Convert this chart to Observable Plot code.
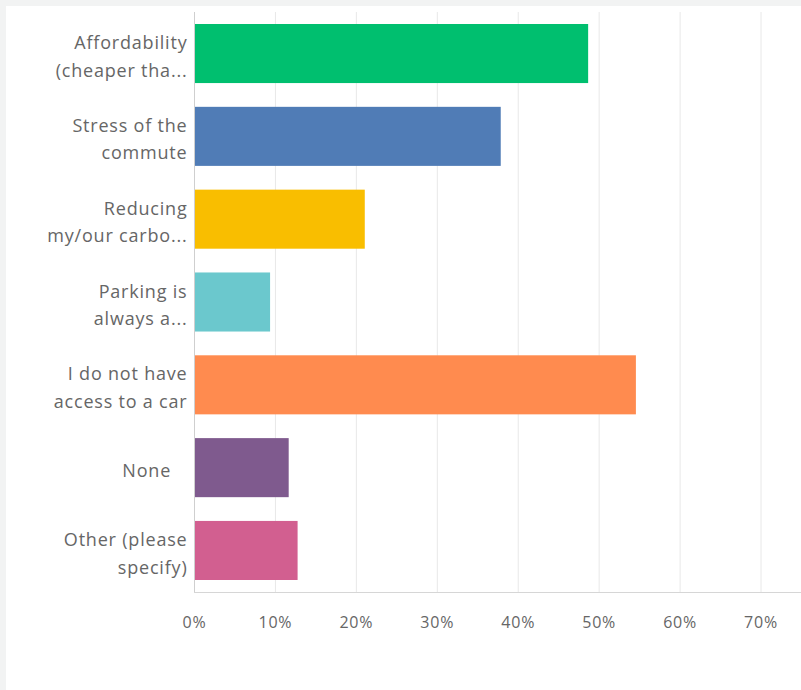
<!DOCTYPE html>
<html><head><meta charset="utf-8">
<script src="https://cdn.jsdelivr.net/npm/d3@7"></script>
<script src="https://cdn.jsdelivr.net/npm/@observablehq/plot@0.6"></script>
<style>
html,body{margin:0;padding:0;background:#f2f3f3;}
#chart{position:absolute;left:6px;top:6px;width:795px;height:684px;background:#fff;}
#chart svg text{letter-spacing:0.8px;}
</style></head><body><div id="chart"></div>
<script>
const categories = ["Affordability\n(cheaper tha...", "Stress of the\ncommute", "Reducing\nmy/our carbo...", "Parking is\nalways a...", "I do not have\naccess to a car", "None\u00a0\u00a0\u00a0", "Other (please\nspecify)"];
const values = [48.7, 37.9, 21.1, 9.4, 54.6, 11.7, 12.8];
const colors = ["#00bf6f", "#507cb6", "#f9be00", "#6bc8cd", "#ff8b4f", "#7f5a8e", "#d25f90"];
const xTicks = [0, 10, 20, 30, 40, 50, 60, 70];
const data = categories.map((c, i) => ({category: c, value: values[i], color: colors[i]}));
const chart = Plot.plot({
  width: 795, height: 684,
  marginLeft: 188, marginRight: 0, marginTop: 6, marginBottom: 98,
  style: {fontFamily: "'Open Sans', sans-serif", fontSize: "18px", color: "#666666", background: "#fff"},
  x: {domain: [0, 75]},
  y: {domain: categories, paddingInner: 0.287, paddingOuter: 0.145, round: false},
  marks: [
    Plot.gridX(xTicks, {stroke: "#e8e8e8", strokeOpacity: 1}),
    Plot.barX(data, {x: "value", y: "category", fill: "color"}),
    Plot.ruleX([0], {stroke: "#cfcfcf"}),
    Plot.frame({anchor: "bottom", stroke: "#d6d6d6"}),
    Plot.axisX(xTicks, {tickFormat: d => d + "%", tickSize: 0, tickPadding: 24, fontSize: 16, label: null}),
    Plot.axisY({tickSize: 0, tickPadding: 7, lineHeight: 1.53, fontSize: 18, label: null})
  ]
});
document.getElementById("chart").appendChild(chart);
</script></body></html>
